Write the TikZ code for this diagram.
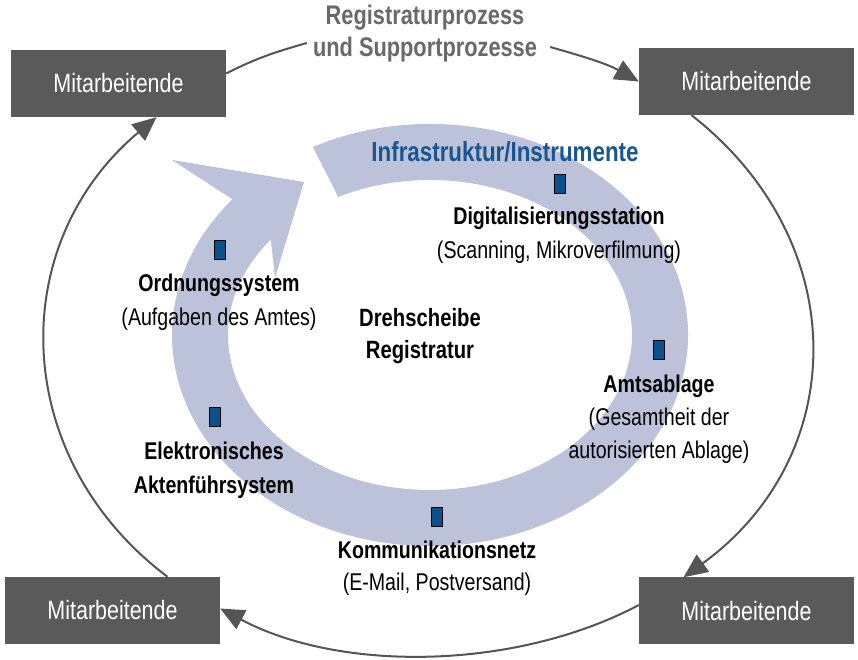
\documentclass[tikz,border=0pt]{standalone}
\usepackage{fontspec}
\setmainfont{Liberation Sans}[FakeStretch=0.81]
\usetikzlibrary{arrows.meta}

\definecolor{boxgrau}{RGB}{90,90,90}
\definecolor{liniengrau}{RGB}{85,85,85}
\definecolor{titelgrau}{RGB}{105,105,105}
\definecolor{bandblau}{RGB}{188,194,218}
\definecolor{infoblau}{RGB}{25,85,145}
\definecolor{markerblau}{RGB}{10,80,140}

\tikzset{
  mitbox/.style={fill=boxgrau, text=white, minimum width=215pt, minimum height=67pt,
    inner sep=0pt, font=\fontsize{26.5}{30}\selectfont},
  beschriftung/.style={align=center, inner sep=0pt, font=\fontsize{24.2}{34}\selectfont},
  kaestchen/.style={draw=black, line width=0.8pt, fill=markerblau,
    minimum width=11pt, minimum height=19pt, inner sep=0pt},
  verbindung/.style={draw=liniengrau, line width=2pt},
  pfeil/.style={verbindung, -{Triangle[length=24pt,width=21pt]}}
}

\begin{document}
\begin{tikzpicture}[x=1pt, y=1pt]
        % Rahmen
        \fill[white] (0,0) rectangle (858,660);
        \useasboundingbox (0,0) rectangle (858,660);

        % Kreispfeil (Band)
        \fill[bandblau] (430,325) ++(117:258 and 211)
            arc[start angle=117, end angle=-220, x radius=258, y radius=211]
            -- (172,500) -- (304,478) -- (275,382)
            -- ([shift={(142:202 and 155)}]430,325)
            arc[start angle=142, end angle=477, x radius=202, y radius=155]
            -- cycle;

        % Mitarbeitende
        \foreach \n/\x/\y in {tl/118.5/576.5, tr/746.5/578.5, bl/112.5/49.5, br/746.5/49}{
            \node[mitbox] (\n) at (\x,\y) {Mitarbeitende};
        }

        % Titel
        \node[align=center, inner sep=6pt, text=titelgrau,
              font=\bfseries\fontsize{26.9}{32}\selectfont] (titel) at (425,626)
              {Registraturprozess\\und Supportprozesse};

        % Prozesskreis
        \draw[verbindung] ([yshift=10pt]tl.east) to[out=27, in=196] ([yshift=-9pt]titel.west);
        \draw[pfeil] ([xshift=7pt, yshift=-13pt]titel.east) to[out=-16, in=151] (tr.west);
        \draw[pfeil] ([xshift=-55pt]tr.south) to[out=-38, in=36, looseness=1.14] ([xshift=-63pt]br.north);
        \draw[pfeil] ([yshift=6pt]br.west) to[out=-152, in=-28, looseness=0.84] ([yshift=2pt]bl.east);
        \draw[pfeil] ([xshift=55pt]bl.north) to[out=143, in=220, looseness=1.1] ([xshift=38pt]tl.south);

        % Infrastruktur
        \node[inner sep=0pt, text=infoblau, font=\bfseries\fontsize{27.6}{30}\selectfont]
            (infra) at (505,508) {Infrastruktur/Instrumente};
        \node[beschriftung, font=\bfseries\fontsize{25}{32}\selectfont]
            (dreh) at (420,324) {Drehscheibe\\Registratur};

        % Instrumente mit Kaestchen
        \foreach \n/\x/\y in {mdig/560/476, mord/220/410, mamt/659/310, melek/215/243, mkom/437/143}{
            \node[kaestchen] (\n) at (\x,\y) {};
        }
        \node[beschriftung] (dig) at (559,425)
            {\textbf{Digitalisierungsstation}\\(Scanning, Mikroverfilmung)};
        \node[beschriftung] (ord) at (219,357.5)
            {\textbf{Ordnungssystem}\\(Aufgaben des Amtes)};
        \node[beschriftung, font=\fontsize{24.2}{33}\selectfont] (amt) at (659,241)
            {\textbf{Amtsablage}\\(Gesamtheit der\\autorisierten Ablage)};
        \node[beschriftung, font=\bfseries\fontsize{24.2}{34}\selectfont] (elek) at (214,190)
            {Elektronisches\\Aktenführsystem};
        \node[beschriftung, font=\fontsize{24.2}{32}\selectfont] (kom) at (437,92)
            {\textbf{Kommunikationsnetz}\\(E-Mail, Postversand)};
\end{tikzpicture}
\end{document}
